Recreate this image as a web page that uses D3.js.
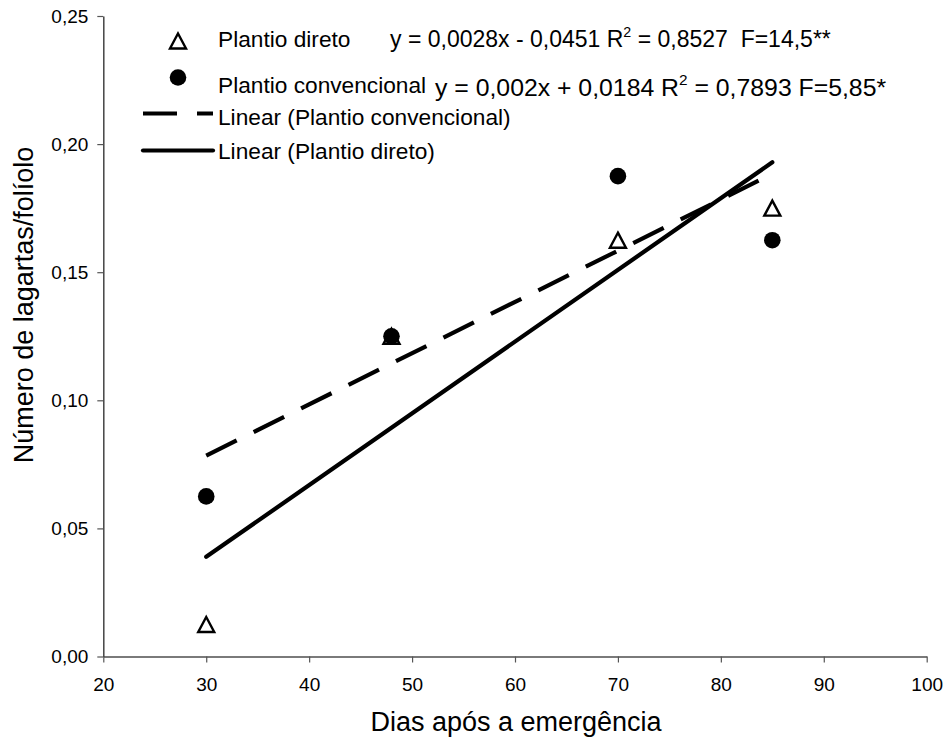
<!DOCTYPE html>
<html>
<head>
<meta charset="utf-8">
<script src="https://cdn.jsdelivr.net/npm/d3@7"></script>
<style>
  html, body { margin: 0; padding: 0; background: #fff; }
  svg text { font-family: "Liberation Sans", Arial, sans-serif; fill: #000; white-space: pre; }
</style>
</head>
<body>
<svg id="chart" width="948" height="742"></svg>
<script>
(function () {
    "use strict";

    // ---- data ----------------------------------------------------
    const dias = [30, 48, 70, 85];
    const plantioDireto = [0.0125, 0.125, 0.1625, 0.175];
    const plantioConvencional = [0.0625, 0.125, 0.1875, 0.1625];

    // trend lines (Excel linear fit, as printed in the legend)
    const fitDireto = { a: 0.0028, b: -0.0451 };
    const fitConvencional = { a: 0.002, b: 0.0184 };
    const fitRange = [30, 85];

    const xTicks = [20, 30, 40, 50, 60, 70, 80, 90, 100];
    const yTicks = [0, 0.05, 0.10, 0.15, 0.20, 0.25];

    const eqDireto = ["y = 0,0028x - 0,0451 R", "2", " = 0,8527  F=14,5**"];
    const eqConvencional = ["y = 0,002x + 0,0184 R", "2", " = 0,7893 F=5,85*"];

    // ---- scales --------------------------------------------------
    const svg = d3.select("#chart");
    const x = d3.scaleLinear().domain([20, 100]).range([103.3, 926.7]);
    const y = d3.scaleLinear().domain([0, 0.25]).range([656.5, 16]);

    const ptBR = d3.formatLocale({ decimal: ",", thousands: ".", grouping: [3], currency: ["", ""] });
    const fmt2 = ptBR.format(".2f");

    // ---- axes ----------------------------------------------------
    const gx = svg.append("g")
        .attr("transform", `translate(0,${y(0)})`)
        .call(d3.axisBottom(x).tickValues(xTicks).tickSize(6).tickSizeOuter(0).tickPadding(15));
    gx.select(".domain").attr("stroke", "#7a7a7a").attr("stroke-width", 2);
    gx.selectAll(".tick line").attr("stroke", "#555").attr("stroke-width", 1.2);
    gx.selectAll("text").attr("font-size", 19).attr("font-family", null);

    const gy = svg.append("g")
        .attr("transform", `translate(${x(20)},0)`)
        .call(d3.axisLeft(y).tickValues(yTicks).tickFormat(fmt2).tickSize(6).tickSizeOuter(0).tickPadding(9));
    gy.select(".domain").attr("stroke", "#444").attr("stroke-width", 1.5);
    gy.selectAll(".tick line").attr("stroke", "#555").attr("stroke-width", 1.2);
    gy.selectAll("text").attr("font-size", 19).attr("font-family", null);

    svg.append("text")
        .attr("x", 516).attr("y", 731)
        .attr("text-anchor", "middle")
        .attr("font-size", 27)
        .text("Dias após a emergência");

    svg.append("text")
        .attr("transform", "translate(32.5,305) rotate(-90)")
        .attr("text-anchor", "middle")
        .attr("font-size", 27)
        .text("Número de lagartas/folíolo");

    // ---- trend lines ---------------------------------------------
    const line = d3.line().x(d => x(d[0])).y(d => y(d[1]));
    const fitPts = f => fitRange.map(v => [v, f.a * v + f.b]);

    svg.append("path")
        .datum(fitPts(fitConvencional))
        .attr("d", line)
        .attr("fill", "none")
        .attr("stroke", "#000")
        .attr("stroke-width", 4.2)
        .attr("stroke-dasharray", "34,19");

    svg.append("path")
        .datum(fitPts(fitDireto))
        .attr("d", line)
        .attr("fill", "none")
        .attr("stroke", "#000")
        .attr("stroke-width", 4.2)
        .attr("stroke-linecap", "round");

    // ---- markers -------------------------------------------------
    const tri = "M0,-7.5L8,7.5L-8,7.5Z";

    svg.append("g").selectAll("path")
        .data(dias.map((d, i) => [d, plantioDireto[i]]))
        .join("path")
        .attr("transform", d => `translate(${x(d[0])},${y(d[1])})`)
        .attr("d", tri)
        .attr("fill", "#fff")
        .attr("stroke", "#000")
        .attr("stroke-width", 2.4);

    svg.append("g").selectAll("circle")
        .data(dias.map((d, i) => [d, plantioConvencional[i]]))
        .join("circle")
        .attr("cx", d => x(d[0]))
        .attr("cy", d => y(d[1]))
        .attr("r", 8.3)
        .attr("fill", "#000");

    // ---- legend --------------------------------------------------
    const lg = svg.append("g");
    lg.append("path").attr("transform", "translate(178,41)").attr("d", tri)
        .attr("fill", "#fff").attr("stroke", "#000").attr("stroke-width", 2.4);
    lg.append("circle").attr("cx", 178).attr("cy", 77.5).attr("r", 8.3).attr("fill", "#000");
    lg.append("line").attr("x1", 143).attr("x2", 213).attr("y1", 113.5).attr("y2", 113.5)
        .attr("stroke", "#000").attr("stroke-width", 4.2).attr("stroke-dasharray", "34,20");
    lg.append("line").attr("x1", 143).attr("x2", 213).attr("y1", 150.5).attr("y2", 150.5)
        .attr("stroke", "#000").attr("stroke-width", 4.2).attr("stroke-linecap", "round");

    const legendRows = [
        { label: "Plantio direto", y: 47, eq: eqDireto, eqX: 390, eqY: 47, eqSize: 23 },
        { label: "Plantio convencional", y: 93, eq: eqConvencional, eqX: 435, eqY: 96, eqSize: 24.8 },
        { label: "Linear (Plantio convencional)", y: 125 },
        { label: "Linear (Plantio direto)", y: 159 }
    ];

    legendRows.forEach(r => {
        lg.append("text").attr("x", 218).attr("y", r.y).attr("font-size", 22.7).text(r.label);
        if (!r.eq) return;
        const t = lg.append("text").attr("x", r.eqX).attr("y", r.eqY).attr("font-size", r.eqSize);
        t.append("tspan").text(r.eq[0]);
        t.append("tspan").attr("font-size", r.eqSize * 0.62).attr("dy", -r.eqSize * 0.45).text(r.eq[1]);
        t.append("tspan").attr("dy", r.eqSize * 0.45).text(r.eq[2]);
    });
})();
</script>
</body>
</html>
